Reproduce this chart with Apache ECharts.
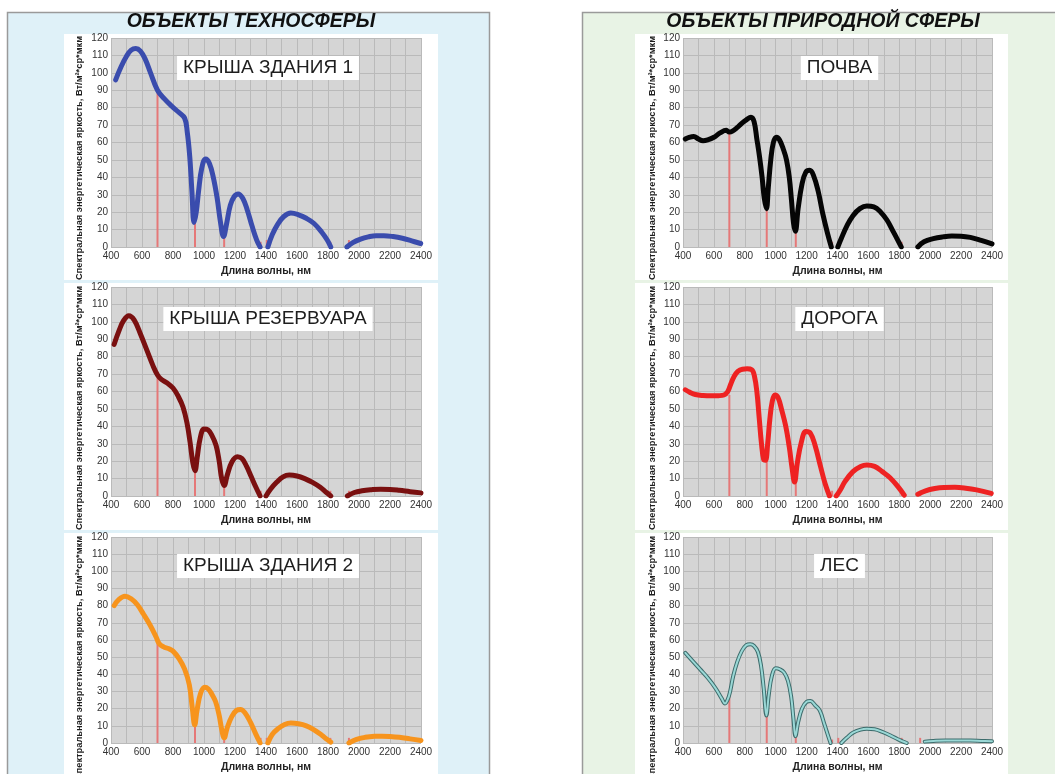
<!DOCTYPE html>
<html><head><meta charset="utf-8">
<script src="https://cdn.jsdelivr.net/npm/echarts@6/dist/echarts.min.js"></script>
<style>html,body{margin:0;padding:0;background:#fff}#c{width:1055px;height:774px}</style>
</head><body><div id="c"></div>
<script>
// ---- data ----
const xTicks = [400,600,800,1000,1200,1400,1600,1800,2000,2200,2400];
const redX = [700, 942, 1130, 1365, 1405, 1815, 1935];

const titles = ['КРЫША ЗДАНИЯ 1','КРЫША РЕЗЕРВУАРА','КРЫША ЗДАНИЯ 2','ПОЧВА','ДОРОГА','ЛЕС'];

const wl1 = [430,465,500,530,560,590,620,655,700,745,790,835,875,892,908,922,936,950,965,985,1010,1035,1060,1085,1105,1126,1145,1170,1195,1220,1250,1280,1310,1340,1362,1385,1412,1440,1475,1515,1560,1610,1660,1710,1760,1795,1818,1870,1922,1960,2010,2060,2110,2160,2220,2280,2340,2398];
const val1 = [96,103.5,109.5,113,114,112.5,108,100,90,85,81,77.5,74,66,52,32,14,20,32,45,50.5,48,40,28,15,6,13,24,29,30.5,28,21,12,4,0,null,0,7,13,17.5,19.5,18.5,16.5,13.5,8.5,4,0,null,0,2.5,4.5,5.8,6.5,6.5,6,5,3.5,2];

const wl2 = [420,450,480,515,550,590,630,670,700,725,760,800,835,865,890,910,928,942,956,975,1000,1025,1050,1078,1098,1114,1130,1150,1180,1215,1245,1275,1305,1335,1362,1380,1400,1430,1470,1510,1550,1600,1650,1700,1750,1790,1818,1870,1925,1970,2020,2080,2140,2200,2260,2330,2400];
const val2 = [87,94.5,100.5,103.5,101,93,84,75,69.5,67,65,62,57,51,42,31,19,14.5,22,33,38.5,38,35,29,20,10,6,12,19.5,22.5,21.5,17,11,5,0,null,0,4,8,11,12,11.5,10,7.8,5,2,0,null,0,2,3,3.6,3.9,3.8,3.3,2.5,1.8];

const wl3 = [420,450,490,530,570,610,650,690,710,740,770,800,840,875,905,925,940,955,978,1005,1028,1050,1075,1098,1116,1130,1150,1180,1210,1235,1265,1300,1335,1362,1385,1412,1440,1480,1520,1560,1610,1660,1710,1760,1795,1818,1870,1935,1980,2040,2100,2150,2200,2260,2330,2400];
const val3 = [80,83.5,85.5,84,80.5,75,69,62,58,56,55,53.5,49,43,34,20,10.5,19,29,32.5,31.5,28.5,24,16,7,3,9,15.5,19,19.5,17.5,12,5,0,null,0,5,8.5,10.8,11.6,11.2,10,7.7,4.5,2,0.5,null,0,2,3.3,3.9,4,3.8,3.3,2.4,1.5];

const wl4 = [415,440,470,500,530,560,600,640,680,700,720,750,780,810,840,860,878,895,912,926,940,952,968,985,1005,1025,1050,1070,1088,1102,1115,1127,1145,1170,1195,1220,1245,1275,1305,1335,1360,1380,1402,1425,1460,1500,1545,1590,1635,1680,1720,1760,1790,1813,1870,1920,1960,2020,2080,2140,2200,2260,2330,2400];
const val4 = [62,63,63.5,62,61,61.5,63,65.5,67,66,66.5,68.5,71,73,74.5,72,62,52,40,28,22,34,50,60,63,61.5,56,50,40,27,14,9,22,36,43,44,41,32,19,8,0,null,0,5,12,18,22,23.5,23,20,15.5,9,4,0,null,0,3,4.8,5.8,6.3,6.2,5.5,3.8,1.8];

const wl5 = [415,445,480,530,580,630,665,690,710,730,755,785,815,845,862,878,893,908,922,934,948,962,977,995,1015,1040,1065,1088,1106,1122,1140,1165,1195,1225,1255,1290,1320,1348,1370,1392,1415,1450,1500,1550,1590,1640,1690,1740,1790,1832,1875,1920,1970,2030,2090,2160,2230,2300,2395];
const val5 = [61,59.5,58.3,57.7,57.5,57.6,58,60,64.5,68.5,71.5,72.8,73,72.5,69,60,45,30,21,20.5,30,44,54,58,56.5,49,40,28,16,8,19,30.5,37,36,29,17,7,0,null,0,3,8.5,14,17,17.8,17,14,10.5,5.5,0.5,null,1,3,4.3,4.9,5,4.5,3.5,1.5];

const wl6 = [415,460,510,560,610,650,672,690,705,725,750,780,810,835,860,885,905,922,940,955,975,1000,1025,1055,1080,1100,1115,1128,1145,1170,1200,1225,1255,1285,1315,1340,1355,1390,1425,1460,1500,1550,1590,1640,1690,1740,1790,1820,1848,1900,1965,2020,2100,2180,2260,2330,2400];
const val6 = [52.5,48,43,38,32,26,23,25.5,30,39,47,53.5,57,57.5,56.5,53,45,32,16,28,39,43.5,43,41,36,27,14,4,12,20,24,24.5,22,19,11,4,0,null,0,3,6,7.8,8.3,8,6.5,4.5,2.2,1,0,null,0.8,1.2,1.5,1.5,1.4,1.2,1];

const redH1 = [90,14,6,3,4,3,4];
const redH2 = [70,15,6,3,3,3,3];
const redH3 = [60,11,4,3,3,3,3];
const redH4 = [66,22,9,3,3,3,3];
const redH5 = [58,20,8,3,3,3,3];
const redH6 = [29,16,4,2,3,3,3];

const colors = ['#3a4cad','#7a1010','#f7941d','#050505','#ee2222','#3d6c6c'];
const panelHeads = ['ОБЪЕКТЫ ТЕХНОСФЕРЫ','ОБЪЕКТЫ ПРИРОДНОЙ СФЕРЫ'];
const yName = 'Спектральная энергетическая яркость, Вт/м²*ср*мкм';
const xName = 'Длина волны, нм';

// ---- layout ----
const wls = [wl1,wl2,wl3,wl4,wl5,wl6];
const vals = [val1,val2,val3,val4,val5,val6];
const reds = [redH1,redH2,redH3,redH4,redH5,redH6];
const colLeft = [111, 683], colW = [310, 309];
const rowTop = [38, 287, 537], rowH = [209, 209, 206];
const FONT = '"Liberation Sans", Arial, sans-serif';

const grids=[], xAxes=[], yAxes=[], series=[], graphics=[];
graphics.push({type:'rect', z:-20, shape:{x:7.5,y:12.5,width:482,height:800}, style:{fill:'#dff1f8', stroke:'#9a9a9a', lineWidth:1.5}});
graphics.push({type:'rect', z:-20, shape:{x:582.5,y:12.5,width:520,height:800}, style:{fill:'#e8f3e5', stroke:'#9a9a9a', lineWidth:1.5}});
const whiteTop=[34,283,533], whiteH=[246,247,260];
for (let r=0;r<3;r++){
  graphics.push({type:'rect', z:-19, shape:{x:64,y:whiteTop[r],width:374,height:whiteH[r]}, style:{fill:'#ffffff'}});
  graphics.push({type:'rect', z:-19, shape:{x:635,y:whiteTop[r],width:373,height:whiteH[r]}, style:{fill:'#ffffff'}});
}
graphics.push({type:'text', z:50, x:251, y:22, style:{text:panelHeads[0], font:'italic bold 19.5px '+FONT, fill:'#111', align:'center', verticalAlign:'middle'}});
graphics.push({type:'text', z:50, x:823, y:22, style:{text:panelHeads[1], font:'italic bold 19.5px '+FONT, fill:'#111', align:'center', verticalAlign:'middle'}});

for (let i=0;i<6;i++){
  const c = i<3?0:1, r = i%3;
  const left = colLeft[c], top = rowTop[r], w = colW[c], h = rowH[r];
  grids.push({left:left, top:top, width:w, height:h, show:true, backgroundColor:'#d5d5d5', borderWidth:0});
  xAxes.push({type:'value', gridIndex:i, min:400, max:2400, interval:100,
    axisLine:{show:false}, axisTick:{show:false},
    splitLine:{show:true, lineStyle:{color:'#bababa', width:1}},
    axisLabel:{fontSize:10, color:'#333', margin:4, fontFamily:FONT,
      formatter:(v)=> xTicks.indexOf(v)>=0 ? String(v) : ''},
    name:xName, nameLocation:'middle', nameGap:19,
    nameTextStyle:{fontSize:10.5, fontWeight:'bold', color:'#222', fontFamily:FONT}
  });
  yAxes.push({type:'value', gridIndex:i, min:0, max:120, interval:10,
    axisLine:{show:false}, axisTick:{show:false},
    splitLine:{show:true, lineStyle:{color:'#bababa', width:1}},
    axisLabel:{fontSize:10, color:'#333', margin:3, fontFamily:FONT}
  });
  series.push({type:'bar', xAxisIndex:i, yAxisIndex:i, silent:true, z:2, barWidth:2,
    data: redX.map((x,k)=>[x, reds[i][k]]), itemStyle:{color:'#e57878'}});
  const d = wls[i].map((x,k)=>[x, vals[i][k]===null ? '-' : vals[i][k]]);
  if (i===5){
    series.push({type:'line', xAxisIndex:i, yAxisIndex:i, silent:true, z:3, data:d, smooth:0.4, showSymbol:false, connectNulls:false,
      lineStyle:{color:'#3d6c6c', width:4, cap:'round', join:'round'}});
    series.push({type:'line', xAxisIndex:i, yAxisIndex:i, silent:true, z:4, data:d, smooth:0.4, showSymbol:false, connectNulls:false,
      lineStyle:{color:'#9ad8d6', width:2, cap:'round', join:'round'}});
  } else {
    series.push({type:'line', xAxisIndex:i, yAxisIndex:i, silent:true, z:3, data:d, smooth:0.4, showSymbol:false, connectNulls:false,
      lineStyle:{color:colors[i], width:5, cap:'round', join:'round'}});
  }
  const tY = [68, 319, 566][r];
  graphics.push({type:'text', z:60, x:left+w/2+2, y:tY, style:{text:titles[i], font:'19px '+FONT, fill:'#1e1e1e',
    align:'center', verticalAlign:'middle', backgroundColor:'#ffffff', padding:[3,6,2,6]}});
  const yx = c===0 ? 79 : 652;
  const yc = [158, 408, 658][r];
  graphics.push({type:'text', z:40, x:yx, y:yc, rotation:Math.PI/2, style:{text:yName, font:'bold 9.3px '+FONT, fill:'#1e1e1e', align:'center', verticalAlign:'middle'}});
}

const chart = echarts.init(document.getElementById('c'), null, {renderer:'canvas'});
chart.setOption({animation:false, backgroundColor:'#ffffff', grid:grids, xAxis:xAxes, yAxis:yAxes, series:series, graphic:{elements:graphics}});
</script></body></html>
